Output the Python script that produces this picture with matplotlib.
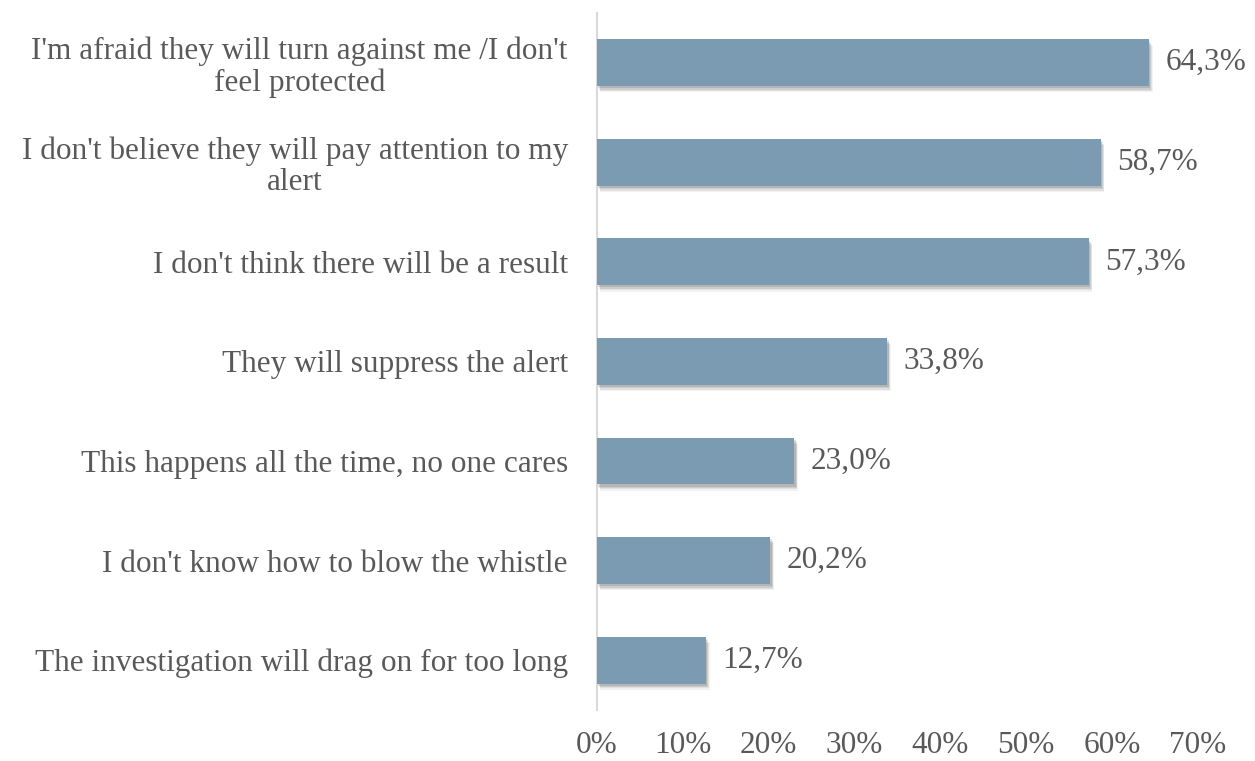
import matplotlib
matplotlib.use("Agg")
import matplotlib.pyplot as plt
from matplotlib import patheffects

reasons = [
    "I'm afraid they will turn against me /I don't\nfeel protected",
    "I don't believe they will pay attention to my\nalert",
    "I don't think there will be a result",
    "They will suppress the alert",
    "This happens all the time, no one cares",
    "I don't know how to blow the whistle",
    "The investigation will drag on for too long",
]
shares = [64.3, 58.7, 57.3, 33.8, 23.0, 20.2, 12.7]
ticks = [0, 10, 20, 30, 40, 50, 60, 70]

plt.rcParams['font.family'] = ['Liberation Serif', 'DejaVu Serif']
text_col = '#595959'
fs = 22.5

fig = plt.figure(figsize=(12.55, 7.61), dpi=100)
ax = fig.add_axes([0.4757, 0.067, 0.4789, 0.916])

y = list(range(len(reasons)))
bars = ax.barh(y, shares, height=0.47, color='#7a9bb1', zorder=3)

# soft drop shadow under each bar
shadow = [patheffects.SimplePatchShadow(offset=(1.0 + 0.5 * k, -1.5 - k), shadow_rgbFace='black',
                                        alpha=0.11 - 0.02 * k)
          for k in range(4)]
for b in bars:
    b.set_path_effects(shadow + [patheffects.Normal()])

for yi, v in zip(y, shares):
    ax.text(v + 1.9, yi, f"{v:.1f}%".replace('.', ','), va='center', ha='left',
            fontsize=fs, color=text_col)

ax.set_ylim(len(reasons) - 0.5, -0.5)
ax.set_xlim(0, 70)
ax.set_yticks(y)
ax.set_yticklabels(reasons, fontsize=fs, color=text_col, multialignment='center', linespacing=1.08)
ax.set_xticks(ticks)
ax.set_xticklabels([f"{t}%" for t in ticks], fontsize=fs, color=text_col)
ax.tick_params(axis='y', length=0, pad=21)
ax.tick_params(axis='x', length=0, pad=15)

for s in ['top', 'right', 'bottom']:
    ax.spines[s].set_visible(False)
ax.spines['left'].set_color('#d9d9d9')
ax.spines['left'].set_linewidth(1.5)

fig.savefig('out.png', dpi=100)
